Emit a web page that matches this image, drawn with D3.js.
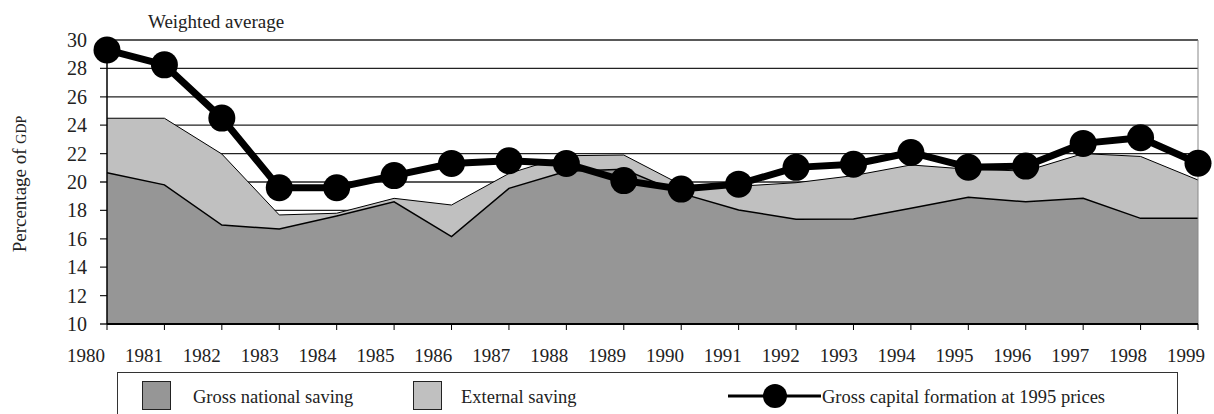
<!DOCTYPE html>
<html>
<head>
<meta charset="utf-8">
<script src="https://cdn.jsdelivr.net/npm/d3@7"></script>
<style>
  html, body { margin: 0; padding: 0; background: #fff; }
  svg { display: block; font-family: "Liberation Serif", "Times New Roman", serif; }
</style>
</head>
<body>
<svg id="chart" width="1214" height="414"></svg>
<script>
const years = [1980,1981,1982,1983,1984,1985,1986,1987,1988,1989,1990,1991,1992,1993,1994,1995,1996,1997,1998,1999];
const nationalSaving = [20.65,19.8,16.97,16.69,17.6,18.6,16.15,19.55,20.75,20.9,19.2,18.03,17.37,17.39,18.15,18.92,18.61,18.85,17.44,17.44];
const externalSaving = [3.84,4.69,5.0,0.99,0.2,0.25,2.23,1.05,1.1,1.0,0.6,1.67,2.58,3.06,3.05,1.98,2.16,3.15,4.36,2.7];
const capitalFormation = [29.3,28.25,24.5,19.6,19.6,20.45,21.3,21.5,21.3,20.1,19.5,19.85,21.03,21.25,22.08,21.04,21.12,22.72,23.12,21.32];
const yTicks = [10,12,14,16,18,20,22,24,26,28,30];
const legendLabels = ["Gross national saving","External saving","Gross capital formation at 1995 prices"];

const svg = d3.select("#chart");
const x = d3.scalePoint().domain(years).range([107, 1198]);
const xLabel = d3.scalePoint().domain(years).range([86, 1186]);
const y = d3.scaleLinear().domain([10, 30]).range([324, 40]);

// gridlines (with left tick extension)
svg.append("g").selectAll("line").data(yTicks.filter(d => d > 10)).join("line")
  .attr("x1", 100).attr("x2", 1198)
  .attr("y1", d => y(d)).attr("y2", d => y(d))
  .attr("stroke", "#222").attr("stroke-width", 1.3);

const data = years.map((yr, i) => ({
  year: yr,
  nat: nationalSaving[i],
  tot: nationalSaving[i] + externalSaving[i],
  gcf: capitalFormation[i]
}));

// external saving (stacked on top of national)
svg.append("path").datum(data)
  .attr("d", d3.area().x(d => x(d.year)).y0(d => y(d.nat)).y1(d => y(d.tot)))
  .attr("fill", "#c0c0c0");
svg.append("path").datum(data)
  .attr("d", d3.area().x(d => x(d.year)).y0(y(10)).y1(d => y(d.nat)))
  .attr("fill", "#969696");
svg.append("path").datum(data)
  .attr("d", d3.line().x(d => x(d.year)).y(d => y(d.tot)))
  .attr("fill", "none").attr("stroke", "#000").attr("stroke-width", 1);
svg.append("path").datum(data)
  .attr("d", d3.line().x(d => x(d.year)).y(d => y(d.nat)))
  .attr("fill", "none").attr("stroke", "#000").attr("stroke-width", 1.5);

// right border
svg.append("line").attr("x1", 1198).attr("x2", 1198).attr("y1", y(30)).attr("y2", y(10))
  .attr("stroke", "#888").attr("stroke-width", 1);

// left axis
svg.append("line").attr("x1", 107).attr("x2", 107).attr("y1", y(30)).attr("y2", y(10))
  .attr("stroke", "#000").attr("stroke-width", 1.5);
svg.append("line").attr("x1", 100).attr("x2", 107).attr("y1", y(10)).attr("y2", y(10))
  .attr("stroke", "#000").attr("stroke-width", 1.3);
svg.append("g").selectAll("text").data(yTicks).join("text")
  .attr("x", 87).attr("y", d => y(d)).attr("dy", "0.35em")
  .attr("text-anchor", "end").attr("font-size", 20).attr("fill", "#222")
  .text(d => d);

// bottom axis
svg.append("line").attr("x1", 107).attr("x2", 1198).attr("y1", y(10)).attr("y2", y(10))
  .attr("stroke", "#000").attr("stroke-width", 2);
svg.append("g").selectAll("line").data(years).join("line")
  .attr("x1", d => x(d)).attr("x2", d => x(d)).attr("y1", y(10)).attr("y2", y(10) + 6)
  .attr("stroke", "#000").attr("stroke-width", 1);
svg.append("g").selectAll("text").data(years).join("text")
  .attr("x", d => xLabel(d)).attr("y", 362)
  .attr("text-anchor", "middle").attr("font-size", 19).attr("fill", "#222")
  .text(d => d);

// capital formation line + markers
svg.append("path").datum(data)
  .attr("d", d3.line().x(d => x(d.year)).y(d => y(d.gcf)))
  .attr("fill", "none").attr("stroke", "#000").attr("stroke-width", 7).attr("stroke-linejoin", "round");
svg.append("g").selectAll("circle").data(data).join("circle")
  .attr("cx", d => x(d.year)).attr("cy", d => y(d.gcf)).attr("r", 13.5)
  .attr("fill", "#000");

// titles
svg.append("text").attr("x", 148).attr("y", 28).attr("font-size", 19).attr("fill", "#222")
  .text("Weighted average");
const yt = svg.append("text").attr("transform", "translate(26,184) rotate(-90)")
  .attr("text-anchor", "middle").attr("font-size", 19).attr("fill", "#222");
yt.append("tspan").text("Percentage of ");
yt.append("tspan").attr("font-size", 14).text("GDP");

// legend
svg.append("rect").attr("x", 117.5).attr("y", 372.5).attr("width", 1060).attr("height", 50)
  .attr("fill", "#fff").attr("stroke", "#333").attr("stroke-width", 1);
svg.append("rect").attr("x", 142.5).attr("y", 381.5).attr("width", 28).attr("height", 28)
  .attr("fill", "#969696").attr("stroke", "#222");
svg.append("text").attr("x", 193).attr("y", 403).attr("font-size", 18.5).attr("fill", "#222").text(legendLabels[0]);
svg.append("rect").attr("x", 413.5).attr("y", 381.5).attr("width", 28).attr("height", 28)
  .attr("fill", "#c0c0c0").attr("stroke", "#222");
svg.append("text").attr("x", 461).attr("y", 403).attr("font-size", 18.5).attr("fill", "#222").text(legendLabels[1]);
svg.append("line").attr("x1", 728).attr("x2", 821).attr("y1", 396).attr("y2", 396)
  .attr("stroke", "#000").attr("stroke-width", 3);
svg.append("circle").attr("cx", 775).attr("cy", 396).attr("r", 12).attr("fill", "#000");
svg.append("text").attr("x", 822).attr("y", 403).attr("font-size", 18.5).attr("fill", "#222").text(legendLabels[2]);
</script>
</body>
</html>
